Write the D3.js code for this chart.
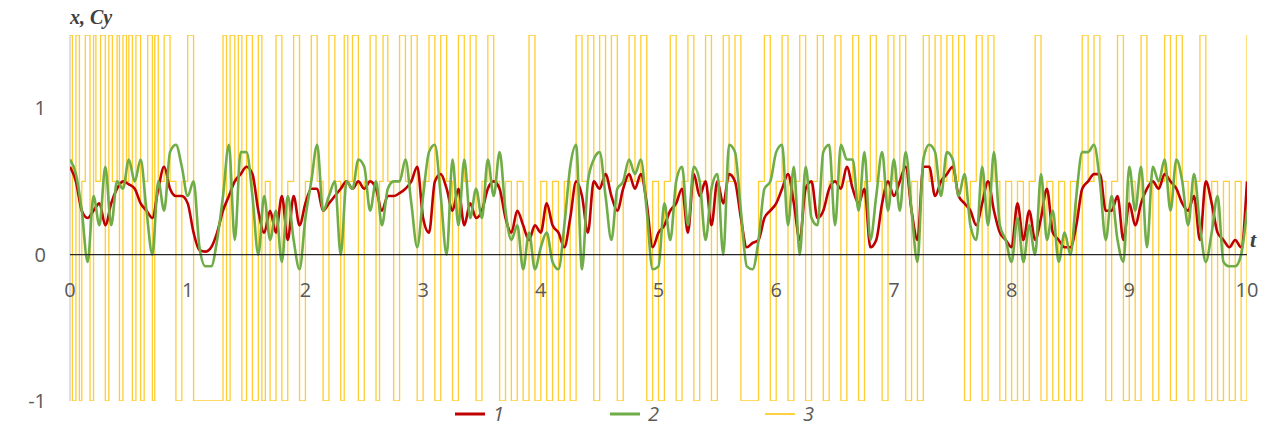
<!DOCTYPE html>
<html>
<head>
<meta charset="utf-8">
<script src="https://cdn.jsdelivr.net/npm/d3@7"></script>
<style>
  body { margin: 0; background: #fff; }
  text { font-family: "Open Sans", "Liberation Sans", sans-serif; }
</style>
</head>
<body>
<svg id="chart" width="1275" height="435"></svg>
<script>
// values, step dt = 0.05
var tStep = 0.05;
var red = [0.6,0.5,0.3,0.25,0.3,0.35,0.2,0.35,0.45,0.5,0.48,0.45,0.35,0.3,0.25,0.45,0.6,0.45,0.4,0.4,
  0.35,0.15,0.03,0.02,0.05,0.15,0.3,0.4,0.5,0.55,0.6,0.55,0.3,0.15,0.3,0.15,0.4,0.1,0.4,0.2,
  0.35,0.45,0.45,0.3,0.35,0.4,0.45,0.5,0.45,0.5,0.45,0.5,0.45,0.3,0.4,0.4,0.42,0.45,0.5,0.6,
  0.25,0.15,0.5,0.55,0.45,0.3,0.45,0.2,0.35,0.25,0.3,0.45,0.5,0.45,0.25,0.15,0.3,0.2,0.1,0.2,
  0.15,0.35,0.2,0.15,0.05,0.25,0.5,0.4,0.15,0.5,0.45,0.55,0.4,0.3,0.45,0.55,0.45,0.55,0.35,0.05,
  0.15,0.2,0.3,0.35,0.45,0.15,0.55,0.4,0.5,0.2,0.5,0.35,0.55,0.5,0.25,0.05,0.08,0.1,0.25,0.3,
  0.35,0.45,0.55,0.35,0.1,0.45,0.5,0.25,0.3,0.45,0.5,0.45,0.6,0.45,0.35,0.45,0.05,0.1,0.35,0.5,
  0.4,0.5,0.6,0.3,0.1,0.6,0.6,0.4,0.5,0.55,0.6,0.4,0.35,0.3,0.2,0.35,0.5,0.3,0.15,0.1,
  0.05,0.35,0.1,0.3,0.1,0.25,0.45,0.15,0.1,0.05,0.05,0.2,0.45,0.5,0.55,0.55,0.3,0.3,0.4,0.1,
  0.35,0.2,0.35,0.45,0.5,0.45,0.55,0.5,0.45,0.35,0.3,0.4,0.1,0.5,0.35,0.15,0.1,0.05,0.1,0.05,0.5];
var green = [0.65,0.55,0.3,-0.05,0.4,0.2,0.6,0.2,0.5,0.45,0.65,0.5,0.65,0.3,0.0,0.5,0.3,0.7,0.75,0.6,
  0.4,0.5,0.05,-0.08,-0.08,0.1,0.4,0.75,0.1,0.7,0.7,0.4,0.0,0.4,0.1,0.3,-0.05,0.4,0.1,-0.1,
  0.25,0.5,0.75,0.3,0.4,0.5,0.0,0.5,0.45,0.65,0.6,0.3,0.5,0.2,0.45,0.5,0.5,0.65,0.35,0.05,
  0.4,0.7,0.75,0.4,0.0,0.65,0.2,0.65,0.25,0.45,0.25,0.65,0.4,0.7,0.3,0.1,0.2,-0.1,0.15,-0.1,
  0.05,0.15,-0.05,-0.1,0.2,0.6,0.75,-0.1,0.5,0.65,0.7,0.4,0.1,0.45,0.5,0.65,0.55,0.65,0.3,-0.1,
  -0.08,0.35,0.1,0.5,0.6,0.2,0.6,0.5,0.1,0.45,0.55,0.0,0.75,0.7,0.3,-0.08,-0.1,0.1,0.45,0.5,
  0.7,0.75,0.2,0.6,0.0,0.6,0.25,0.2,0.7,0.75,0.2,0.75,0.65,0.65,0.3,0.7,0.1,0.4,0.7,0.3,
  0.65,0.3,0.7,0.3,-0.05,0.65,0.75,0.7,0.4,0.7,0.65,0.4,0.55,0.2,0.1,0.6,0.2,0.7,0.2,0.1,
  -0.05,0.25,-0.05,0.2,0.0,0.55,0.1,0.3,-0.05,0.15,0.0,0.4,0.7,0.7,0.75,0.5,0.1,0.4,0.1,-0.05,
  0.6,0.3,0.6,0.05,0.6,0.5,0.65,0.3,0.65,0.5,0.2,0.55,0.2,-0.05,0.15,0.4,-0.05,-0.08,-0.08,0.0,0.3];
// step series 3: switch times and the level held until the next switch
var stepT = [0,0.02,0.05,0.08,0.1,0.13,0.17,0.2,0.22,0.26,0.3,0.33,0.36,0.4,0.42,0.45,0.48,0.5,0.53,0.56,
  0.6,0.63,0.66,0.7,0.72,0.75,0.8,0.85,0.9,0.95,1.0,1.05,1.25,1.3,1.33,1.36,1.4,1.43,1.46,1.5,
  1.55,1.6,1.63,1.66,1.7,1.75,1.8,1.85,1.9,1.95,2.0,2.05,2.1,2.15,2.2,2.25,2.3,2.33,2.36,2.4,
  2.45,2.5,2.55,2.6,2.63,2.66,2.7,2.75,2.8,2.85,2.9,2.95,3.0,3.05,3.1,3.15,3.2,3.25,3.3,3.35,
  3.4,3.45,3.5,3.55,3.6,3.65,3.7,3.75,3.8,3.85,3.9,3.95,4.0,4.05,4.1,4.15,4.2,4.25,4.3,4.35,
  4.4,4.45,4.5,4.55,4.6,4.65,4.7,4.75,4.8,4.85,4.9,4.95,5.0,5.05,5.1,5.15,5.2,5.25,5.3,5.35,
  5.4,5.45,5.5,5.55,5.6,5.65,5.7,5.75,5.85,5.9,5.95,6.0,6.05,6.1,6.15,6.2,6.25,6.3,6.35,6.4,
  6.45,6.5,6.55,6.6,6.65,6.7,6.75,6.8,6.85,6.9,6.95,7.0,7.05,7.1,7.15,7.2,7.25,7.3,7.35,7.4,
  7.45,7.5,7.55,7.6,7.65,7.7,7.75,7.8,7.85,7.9,7.95,8.0,8.05,8.1,8.15,8.2,8.25,8.3,8.35,8.4,
  8.45,8.5,8.55,8.6,8.65,8.7,8.75,8.8,8.85,8.9,8.95,9.0,9.05,9.1,9.15,9.2,9.25,9.3,9.35,9.4,
  9.45,9.5,9.55,9.6,9.65,9.7,9.75,9.8,9.85,9.9,9.95,10];
var stepV = [1.5,-1,1.5,-1,0.5,1.5,-1,1.5,0.5,1.5,-1,1.5,0.5,1.5,-1,1.5,0.5,1.5,-1,1.5,
  -1,0.5,1.5,-1,1.5,0.5,1.5,0.5,-1,0.5,1.5,-1,-1,1.5,-1,1.5,0.5,1.5,-1,1.5,
  -1,1.5,-1,0.5,-1,1.5,-1,0.5,1.5,-1,0.5,1.5,0.5,-1,1.5,0.5,-1,1.5,0.5,1.5,
  -1,0.5,1.5,-1,0.5,1.5,0.5,-1,1.5,0.5,1.5,-1,0.5,1.5,-1,1.5,0.5,-1,1.5,0.5,
  1.5,-1,0.5,1.5,0.5,-1,0.5,-1,0.5,-1,1.5,-1,0.5,-1,0.5,-1,0.5,-1,1.5,0.5,
  1.5,-1,1.5,0.5,1.5,-1,0.5,1.5,0.5,1.5,-1,0.5,-1,0.5,1.5,-1,0.5,1.5,-1,0.5,
  1.5,-1,0.5,1.5,0.5,1.5,-1,-1,0.5,1.5,-1,0.5,1.5,-1,0.5,1.5,-1,0.5,1.5,-1,
  0.5,1.5,-1,0.5,1.5,-1,0.5,1.5,0.5,-1,1.5,0.5,1.5,-1,0.5,-1,1.5,0.5,1.5,0.5,
  1.5,0.5,1.5,-1,0.5,1.5,-1,1.5,0.5,-1,0.5,-1,0.5,-1,0.5,1.5,-1,0.5,-1,0.5,
  -1,0.5,-1,1.5,0.5,1.5,0.5,-1,0.5,1.5,-1,0.5,-1,1.5,0.5,-1,0.5,1.5,-1,1.5,
  0.5,-1,0.5,1.5,-1,0.5,-1,0.5,-1,0.5,-1,1.5];
var xTicks = [0,1,2,3,4,5,6,7,8,9,10];
var yTicks = [-1,0,1];
var names = ["1","2","3"];
var colors = ["#c00000","#70ad47","#ffc000"];

var svg = d3.select("#chart"),
    margin = {top: 35, right: 28, bottom: 34, left: 70},
    width = +svg.attr("width") - margin.left - margin.right,
    height = +svg.attr("height") - margin.top - margin.bottom;

var x = d3.scaleLinear().domain([0, 10]).range([0, width]),
    y = d3.scaleLinear().domain([-1, 1.5]).range([height, 0]);

var g = svg.append("g")
    .attr("transform", "translate(" + margin.left + "," + margin.top + ")");

var defs = svg.append("defs");
defs.append("clipPath").attr("id", "clip")
    .append("rect").attr("width", width).attr("height", height);

// left axis line
g.append("line")
    .attr("x1", 0).attr("x2", 0).attr("y1", 0).attr("y2", height)
    .attr("stroke", "#bfbfbf").attr("stroke-width", 1);

g.selectAll(".ylab")
    .data(yTicks)
    .enter().append("text")
    .attr("class", "ylab")
    .attr("x", -24)
    .attr("y", function (d) { return y(d); })
    .attr("dy", "0.35em")
    .attr("text-anchor", "end")
    .attr("fill", "#595959")
    .style("font-size", "20px")
    .text(function (d) { return d; });

var plot = g.append("g").attr("clip-path", "url(#clip)");

// series 3 as steps
var stepData = stepT.map(function (t, i) { return [t, stepV[i]]; });
plot.append("path")
    .datum(stepData)
    .attr("fill", "none")
    .attr("stroke", colors[2])
    .attr("stroke-width", 1.3)
    .attr("stroke-opacity", 0.8)
    .attr("d", d3.line().curve(d3.curveStepAfter)
        .x(function (d) { return x(d[0]); })
        .y(function (d) { return y(d[1]); }));

// zero line
g.append("line")
    .attr("x1", 0).attr("x2", width).attr("y1", y(0)).attr("y2", y(0))
    .attr("stroke", "#262626").attr("stroke-width", 1.3);

var smooth = d3.line().curve(d3.curveMonotoneX)
    .x(function (d, i) { return x(i * tStep); })
    .y(function (d) { return y(d); });

plot.append("path").datum(red)
    .attr("fill", "none").attr("stroke", colors[0]).attr("stroke-width", 2.6)
    .attr("d", smooth);
plot.append("path").datum(green)
    .attr("fill", "none").attr("stroke", colors[1]).attr("stroke-width", 2.6)
    .attr("d", smooth);

g.selectAll(".xlab")
    .data(xTicks)
    .enter().append("text")
    .attr("class", "xlab")
    .attr("x", function (d) { return x(d); })
    .attr("y", y(0) + 42)
    .attr("text-anchor", "middle")
    .attr("fill", "#595959")
    .style("font-size", "20px")
    .text(function (d) { return d; });

svg.append("text")
    .attr("x", 70).attr("y", 24)
    .attr("fill", "#404040")
    .style("font-size", "20px").style("font-weight", "bold").style("font-style", "italic")
    .style("font-family", "Liberation Serif, serif")
    .text("x, Cy");

svg.append("text")
    .attr("x", 1250).attr("y", 247)
    .attr("fill", "#404040")
    .style("font-size", "22px").style("font-weight", "bold").style("font-style", "italic")
    .style("font-family", "Liberation Serif, serif")
    .text("t");

// legend
var legend = svg.selectAll(".legend")
    .data(names)
    .enter().append("g")
    .attr("class", "legend")
    .attr("transform", function (d, i) { return "translate(" + (455 + i * 155) + ",414)"; });

legend.append("line")
    .attr("x1", 0).attr("x2", 30)
    .attr("stroke", function (d, i) { return colors[i]; })
    .attr("stroke-width", function (d, i) { return i === 2 ? 1.5 : 3; });

legend.append("text")
    .attr("x", 38).attr("dy", "0.35em")
    .attr("fill", "#595959")
    .style("font-size", "20px").style("font-style", "italic")
    .text(function (d) { return d; });
</script>
</body>
</html>
